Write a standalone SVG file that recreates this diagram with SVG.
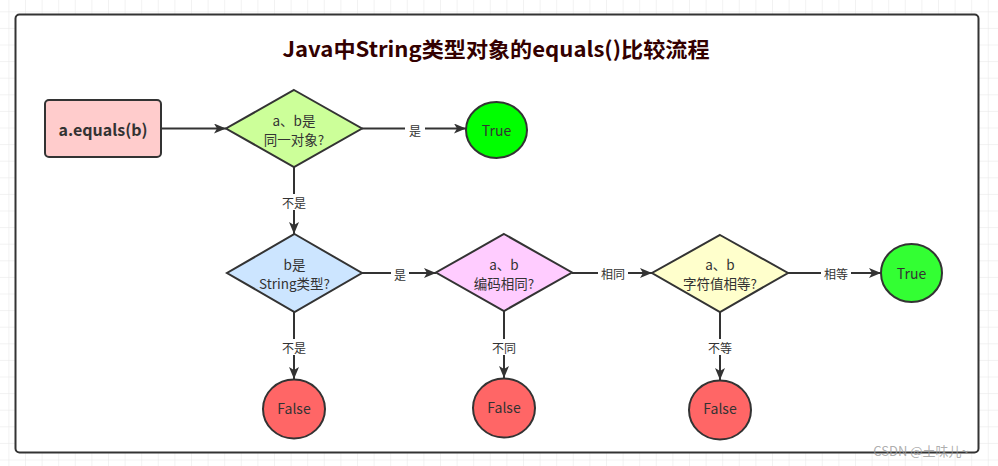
<svg xmlns="http://www.w3.org/2000/svg" width="998" height="466" viewBox="0 0 998 466">
<defs>
<pattern id="grid" x="8.4" y="11.3" width="16.6" height="16.6" patternUnits="userSpaceOnUse">
<path d="M0 0H16.6M0 0V16.6" fill="none" stroke="#e6e6e6" stroke-width="1"/>
</pattern>
<marker id="arr" viewBox="0 0 12 10" refX="12" refY="5" markerWidth="12" markerHeight="10" markerUnits="userSpaceOnUse" orient="auto">
<path d="M0 0L12 5L0 10L3 5Z" fill="#333"/>
</marker>
</defs>
<style>
.shape{stroke:#333;stroke-width:2}
.t{font-family:"Noto Sans CJK SC","Microsoft YaHei",sans-serif;font-size:13.5px;fill:#333;text-anchor:middle;dominant-baseline:central}
.lbl{font-family:"Noto Sans CJK SC","Microsoft YaHei",sans-serif;font-size:12px;fill:#333;text-anchor:middle;dominant-baseline:central}
.lb{fill:#fff}
.c{fill:none;stroke:#333;stroke-width:2;marker-end:url(#arr)}
</style>
<rect width="998" height="466" fill="#fff"/>
<rect width="998" height="466" fill="url(#grid)"/>
<rect x="15.5" y="14.5" width="963" height="438" rx="4" fill="#fff" stroke="#333" stroke-width="2"/>
<text x="496" y="48" font-family="'Noto Sans CJK SC','Microsoft YaHei',sans-serif" font-size="21" font-weight="bold" fill="#330000" text-anchor="middle" dominant-baseline="central" textLength="427" lengthAdjust="spacingAndGlyphs">Java中String类型对象的equals()比较流程</text>
<g id="connectors">
<path class="c" d="M161 128.5H226"/>
<path class="c" d="M362 128.5H466"/>
<path class="c" d="M294 167V234"/>
<path class="c" d="M362 273H436"/>
<path class="c" d="M572 273H652"/>
<path class="c" d="M788 273H881"/>
<path class="c" d="M294 312V379"/>
<path class="c" d="M504 311V378"/>
<path class="c" d="M720 312V380"/>
<rect class="lb" x="405" y="121" width="20" height="16"/>
<text class="lbl" x="415" y="130">是</text>
<rect class="lb" x="279" y="194" width="30" height="16"/>
<text class="lbl" x="294" y="202">不是</text>
<rect class="lb" x="391" y="265" width="18" height="16"/>
<text class="lbl" x="400" y="274">是</text>
<rect class="lb" x="598" y="265" width="30" height="16"/>
<text class="lbl" x="613" y="273">相同</text>
<rect class="lb" x="821" y="265" width="30" height="16"/>
<text class="lbl" x="836" y="273">相等</text>
<rect class="lb" x="279" y="339" width="30" height="16"/>
<text class="lbl" x="294" y="347">不是</text>
<rect class="lb" x="489" y="339" width="30" height="16"/>
<text class="lbl" x="504" y="347">不同</text>
<rect class="lb" x="705" y="339" width="30" height="16"/>
<text class="lbl" x="720" y="347">不等</text>
</g>
<g id="start">
<rect class="shape" x="45" y="100" width="116" height="57" rx="4" fill="#ffcccc"/>
<text class="t" x="103" y="129" style="font-size:16px;font-weight:bold">a.equals(b)</text>
</g>
<g id="d1">
<path class="shape" d="M294 90L362 128.5L294 167L226 128.5Z" fill="#ccff99"/>
<text class="t" x="294" y="120">a、b是</text>
<text class="t" x="294" y="139">同一对象?</text>
</g>
<g id="true1">
<ellipse class="shape" cx="496.5" cy="130" rx="30.5" ry="28" fill="#00ff00"/>
<text class="t" x="496.5" y="130" style="font-size:14px">True</text>
</g>
<g id="d2">
<path class="shape" d="M294.5 234L362 273L294.5 312L227 273Z" fill="#cce5ff"/>
<text class="t" x="294.5" y="264">b是</text>
<text class="t" x="294.5" y="283">String类型?</text>
</g>
<g id="d3">
<path class="shape" d="M504 234L572 272.5L504 311L436 272.5Z" fill="#ffccff"/>
<text class="t" x="504" y="264">a、b</text>
<text class="t" x="504" y="283">编码相同?</text>
</g>
<g id="d4">
<path class="shape" d="M720 235L788 273L720 312L652 273Z" fill="#ffffcc"/>
<text class="t" x="720" y="264">a、b</text>
<text class="t" x="720" y="283">字符值相等?</text>
</g>
<g id="true2">
<ellipse class="shape" cx="911.5" cy="273" rx="30.5" ry="29" fill="#33ff33"/>
<text class="t" x="911.5" y="273" style="font-size:14px">True</text>
</g>
<g id="false1">
<ellipse class="shape" cx="294" cy="409" rx="31" ry="29.5" fill="#ff6666"/>
<text class="t" x="294" y="408" style="font-size:14px">False</text>
</g>
<g id="false2">
<ellipse class="shape" cx="504" cy="408" rx="31" ry="29.5" fill="#ff6666"/>
<text class="t" x="504" y="407" style="font-size:14px">False</text>
</g>
<g id="false3">
<ellipse class="shape" cx="720" cy="410" rx="31" ry="29.5" fill="#ff6666"/>
<text class="t" x="720" y="408" style="font-size:14px">False</text>
</g>
<text x="921" y="450" font-family="'Noto Sans CJK SC',sans-serif" font-size="13" fill="#999" fill-opacity="0.8" text-anchor="middle" dominant-baseline="central">CSDN @土味儿~</text>
</svg>
